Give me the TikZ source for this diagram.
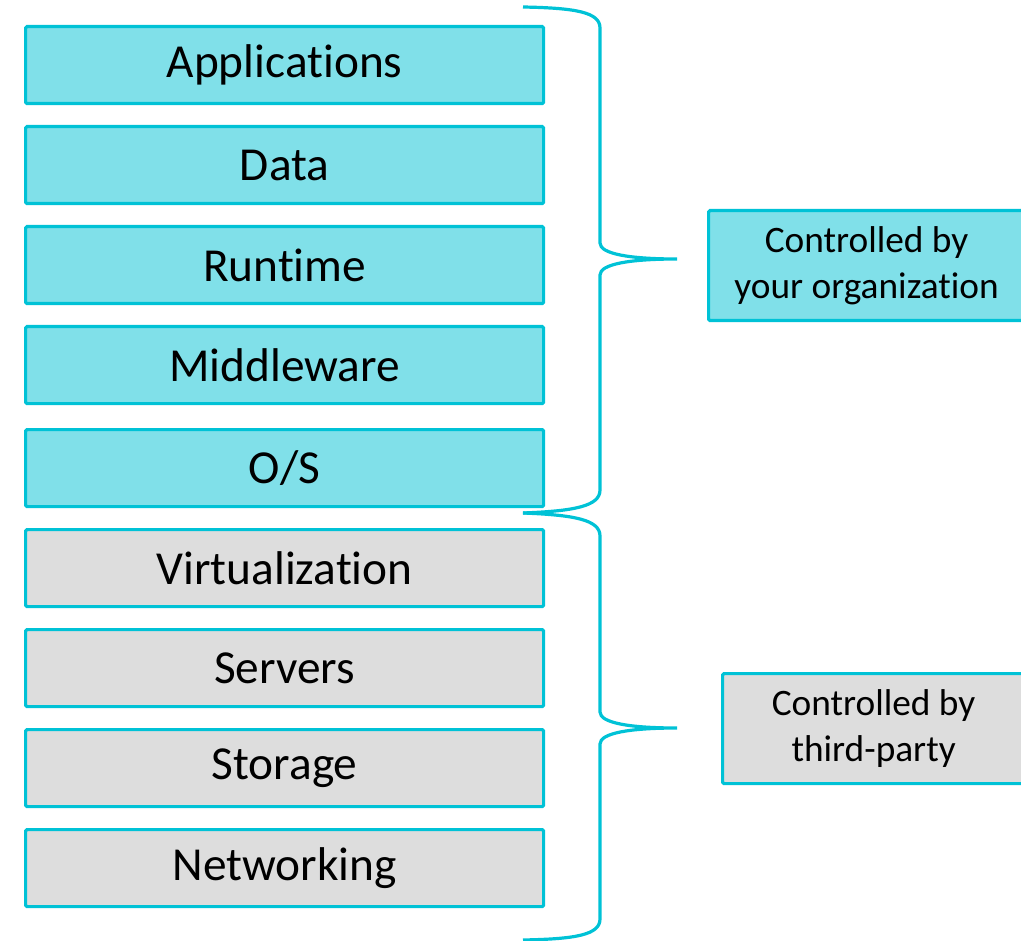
\documentclass[tikz,border=0pt]{standalone}
\usepackage{fontspec}
\setmainfont{Carlito}[RawFeature=-liga]
\definecolor{edge}{HTML}{00C2D6}
\definecolor{cyanfill}{HTML}{80E0E9}
\definecolor{grayfill}{HTML}{DDDDDD}
\tikzset{
  layer/.style={draw=edge, line width=2.4pt, rounded corners=1pt, minimum width=518*0.75pt, minimum height=77*0.75pt, inner sep=0pt, font=\fontsize{35.5}{40}\selectfont, anchor=north west},
  own/.style={layer, fill=cyanfill},
  third/.style={layer, fill=grayfill},
  legend/.style={draw=edge, line width=2.4pt, rounded corners=1pt, inner sep=0pt, anchor=north west, align=center, font=\fontsize{28}{34}\selectfont},
  brace/.style={draw=edge, line width=2.4pt}
}
\begin{document}
\begin{tikzpicture}[x=0.75pt,y=-0.75pt]
\useasboundingbox (0,0) rectangle (1021,941);
\node[own]   (app)  at (24,25)  {Applications};
\node[own]   (data) at (24,125) {Data};
\node[own]   (run)  at (24,225) {Runtime};
\node[own]   (mid)  at (24,325) {Middleware};
\node[own]   (os)   at (24,428) {O/S};
\node[third] (virt) at (24,528) {Virtualization};
\node[third] (serv) at (24,628) {Servers};
\node[third] (stor) at (24,728) {Storage};
\node[third] (net)  at (24,828) {Networking};
\node[legend, fill=cyanfill, minimum width=316*0.75pt, minimum height=110*0.75pt] (org) at (707,209) {Controlled by\\your organization};
\node[legend, fill=grayfill, minimum width=302*0.75pt, minimum height=110*0.75pt] (tp) at (721,672) {Controlled by\\third-party};
% brace coordinates
\coordinate (b1s) at (523,7);
\coordinate (b1t) at (677,259);
\coordinate (b1e) at (523,513);
\coordinate (b2s) at (523,513);
\coordinate (b2t) at (677,728);
\coordinate (b2e) at (523,940);
\draw[brace] (b1s) .. controls (575,8) and (600,12) .. (600,28) -- (600,243)
  .. controls (600,254) and (630,259) .. (b1t)
  .. controls (630,259) and (600,264) .. (600,275) -- (600,490)
  .. controls (600,506) and (575,511) .. (b1e);
\draw[brace] (b2s) .. controls (575,515) and (600,520) .. (600,536) -- (600,712)
  .. controls (600,723) and (630,728) .. (b2t)
  .. controls (630,728) and (600,733) .. (600,744) -- (600,919)
  .. controls (600,935) and (575,939) .. (b2e);
\end{tikzpicture}
\end{document}
